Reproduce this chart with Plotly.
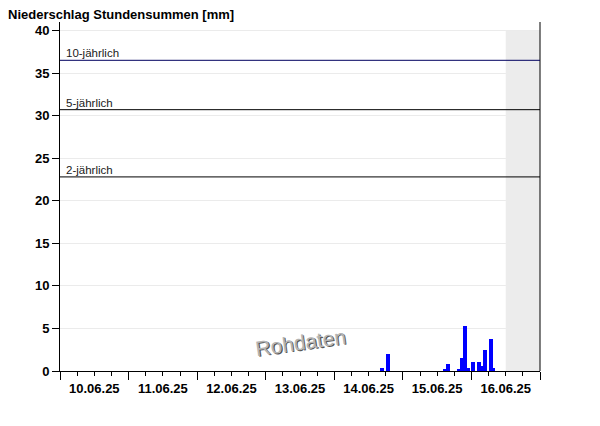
import plotly.graph_objects as go

# ---- data ----
times = ["2025-06-14 16:00", "2025-06-14 18:00",
         "2025-06-15 14:00", "2025-06-15 15:00", "2025-06-15 19:00",
         "2025-06-15 20:00", "2025-06-15 21:00", "2025-06-15 22:00",
         "2025-06-16 00:00", "2025-06-16 02:00", "2025-06-16 03:00",
         "2025-06-16 04:00", "2025-06-16 06:00", "2025-06-16 07:00"]
precip = [0.3, 2.0, 0.2, 0.85, 0.15, 1.5, 5.3, 0.4, 1.05, 1.05, 0.6, 2.5, 3.8, 0.4]

day_starts = ["2025-06-10", "2025-06-11", "2025-06-12", "2025-06-13",
              "2025-06-14", "2025-06-15", "2025-06-16", "2025-06-17"]
label_pos = ["2025-06-10 12:00", "2025-06-11 12:00", "2025-06-12 12:00",
             "2025-06-13 12:00", "2025-06-14 12:00", "2025-06-15 12:00",
             "2025-06-16 12:00"]
label_text = ["10.06.25", "11.06.25", "12.06.25", "13.06.25",
              "14.06.25", "15.06.25", "16.06.25"]
y_ticks = [0, 5, 10, 15, 20, 25, 30, 35, 40]

thr_names = ["10-jährlich", "5-jährlich", "2-jährlich"]
thr_values = [36.5, 30.7, 22.8]
thr_colors = ["#000060", "#000000", "#000000"]

forecast_start = "2025-06-16 12:00"
x_start = "2025-06-10 00:00"
x_end = "2025-06-17 00:00"

FONT = "Liberation Sans, Arial, sans-serif"
HOUR_MS = 3600 * 1000

fig = go.Figure()
fig.add_trace(go.Bar(x=times, y=precip, marker=dict(color="#0000ff", line=dict(width=0)),
                     width=[1.4 * HOUR_MS] * len(times), offset=0,
                     showlegend=False, hoverinfo="x+y"))
# invisible trace to anchor the label axis
fig.add_trace(go.Scatter(x=[x_start, x_end], y=[0, 0], xaxis="x2", mode="markers",
                         marker=dict(opacity=0), showlegend=False, hoverinfo="skip"))

shapes = [
    dict(type="rect", xref="x", yref="y", x0=forecast_start, x1=x_end, y0=0, y1=40,
         fillcolor="#ececec", line=dict(width=0), layer="between"),
    dict(type="line", xref="x domain", yref="y domain", x0=1, x1=1, y0=0, y1=1,
         line=dict(color="black", width=1)),
]
annotations = []
for name, val, col in zip(thr_names, thr_values, thr_colors):
    shapes.append(dict(type="line", xref="x domain", yref="y", x0=0, x1=1, y0=val, y1=val,
                       line=dict(color=col, width=1), layer="above"))
    annotations.append(dict(text=name, xref="x domain", yref="y", x=0.009, y=val,
                            xanchor="left", yanchor="bottom", showarrow=False,
                            yshift=-1, font=dict(family=FONT, size=11.5, color="#1a1a1a")))

annotations.append(dict(text="Rohdaten", xref="paper", yref="paper",
                        x=(300 - 60) / 480, y=(371 - 342) / 349, xanchor="center", yanchor="middle",
                        showarrow=False, textangle=-8,
                        font=dict(family=FONT, size=21, color="#b4b4b4",
                                  shadow="1px 1px 0px #555")))

# page body has an 8px margin: figure is 592x418 placed at (8,8)
fig.update_layout(
    width=592, height=418,
    margin=dict(l=52, r=60, t=14, b=55),
    paper_bgcolor="white", plot_bgcolor="white",
    bargap=0,
    title=dict(text="<b>Niederschlag Stundensummen [mm]</b>", x=0, xanchor="left",
               xref="container", yref="container", y=1 - 2 / 418, yanchor="top",
               pad=dict(t=0, l=0),
               font=dict(family=FONT, size=13, color="black")),
    xaxis=dict(type="date", range=[x_start, x_end], tickmode="array", tickvals=day_starts,
               showticklabels=False, ticks="outside", ticklen=8, tickcolor="black", tickwidth=1,
               showline=True, linecolor="black", linewidth=1, showgrid=False, zeroline=False,
               minor=dict(ticks="outside", ticklen=4, tickcolor="black", dtick=6 * HOUR_MS,
                          tick0=x_start, showgrid=False)),
    xaxis2=dict(type="date", range=[x_start, x_end], overlaying="x", anchor="y", side="bottom",
                tickmode="array", tickvals=label_pos, ticktext=label_text,
                ticks="outside", ticklen=5, tickcolor="rgba(0,0,0,0)",
                showline=False, showgrid=False, zeroline=False,
                tickfont=dict(family=FONT, size=13, color="black", weight="bold")),
    yaxis=dict(range=[0, 41], tickmode="array", tickvals=y_ticks, ticks="outside", ticklen=7,
               tickcolor="black", showline=True, linecolor="black", linewidth=1,
               showgrid=True, gridcolor="#ebebeb", gridwidth=1, zeroline=False,
               tickfont=dict(family=FONT, size=13, color="black", weight="bold")),
    shapes=shapes,
    annotations=annotations,
)

fig.write_html("out.html")
